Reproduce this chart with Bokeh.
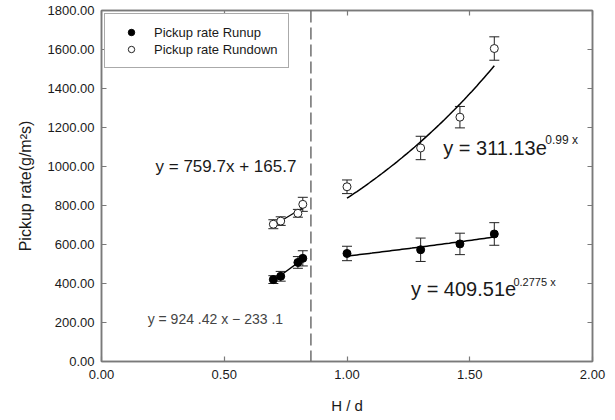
import numpy as np
from bokeh.plotting import figure
from bokeh.models import (ColumnDataSource, Whisker, TeeHead, Span, Label, Legend, LegendItem,
                          LinearAxis, FixedTicker, PrintfTickFormatter, Range1d)
from bokeh.embed import file_html
from bokeh.resources import INLINE

# ---- data ----
x_left = [0.70, 0.73, 0.80, 0.82]
runup_left = [420, 437, 508, 529]
runup_left_err = [20, 25, 30, 39]
rundown_left = [704, 720, 760, 806]
rundown_left_err = [23, 22, 20, 36]

x_right = [1.00, 1.30, 1.46, 1.60]
runup_right = [554, 573, 603, 654]
runup_right_err = [37, 60, 55, 58]
rundown_right = [896, 1095, 1253, 1605]
rundown_right_err = [35, 60, 55, 60]

# fit equations printed on the chart
lin_runup = (924.42, -233.1)
lin_rundown = (759.7, 165.7)
exp_runup = (409.51, 0.2775)
exp_rundown = (311.13, 0.99)
divider_x = 0.853

x_ticks = [0.0, 0.5, 1.0, 1.5, 2.0]
y_ticks = [0, 200, 400, 600, 800, 1000, 1200, 1400, 1600, 1800]

FONT = "Liberation Sans"
AX = "#7a7a7a"

p = figure(width=612, height=416, output_backend="svg", toolbar_location=None,
           x_range=Range1d(0, 2), y_range=Range1d(0, 1800),
           min_border_left=101, min_border_right=20, min_border_top=10, min_border_bottom=53)
p.grid.visible = False
p.outline_line_color = AX
p.outline_line_width = 1.5
p.background_fill_color = "white"
p.border_fill_color = "white"

def style_axis(ax, labels=True):
    ax.axis_line_color = AX
    ax.axis_line_width = 1.5
    ax.major_tick_line_color = AX
    ax.major_tick_line_width = 1.2
    ax.major_tick_in = 5
    ax.major_tick_out = 0
    ax.minor_tick_line_color = None
    ax.major_label_text_font = FONT
    ax.major_label_text_font_size = "13px"
    ax.major_label_text_color = "#1a1a1a"
    ax.axis_label_text_font = FONT
    ax.axis_label_text_font_size = "14px"
    ax.axis_label_text_font_style = "normal"
    ax.axis_label_text_color = "#1a1a1a"
    if not labels:
        ax.major_label_text_font_size = "1px"
        ax.major_label_text_color = None
        ax.major_label_standoff = 0

p.xaxis.ticker = FixedTicker(ticks=x_ticks)
p.yaxis.ticker = FixedTicker(ticks=y_ticks)
p.xaxis.formatter = PrintfTickFormatter(format="%.2f")
p.yaxis.formatter = PrintfTickFormatter(format="%.2f")
style_axis(p.xaxis[0])
style_axis(p.yaxis[0])
p.xaxis.major_label_standoff = 8
p.yaxis.major_label_standoff = 7
p.xaxis.axis_label = "H / d"
p.yaxis.axis_label = "Pickup rate(g/m²s)"
p.xaxis.axis_label_text_font_size = "15px"
p.yaxis.axis_label_text_font_size = "16px"
p.xaxis.axis_label_standoff = 15
p.yaxis.axis_label_standoff = 11

top_ax = LinearAxis(ticker=FixedTicker(ticks=x_ticks),
                    major_label_overrides={t: "" for t in x_ticks})
right_ax = LinearAxis(ticker=FixedTicker(ticks=y_ticks),
                      major_label_overrides={t: "" for t in y_ticks})
style_axis(top_ax, labels=False)
style_axis(right_ax, labels=False)
p.add_layout(top_ax, "above")
p.add_layout(right_ax, "right")

# divider
p.add_layout(Span(location=divider_x, dimension="height", line_color="#6e6e6e",
                  line_width=1.5, line_dash="12 5"))

# fit lines
xl = np.array([x_left[0], x_left[-1]])
p.line(xl, lin_runup[0] * xl + lin_runup[1], line_color="black", line_width=1.3)
p.line(xl, lin_rundown[0] * xl + lin_rundown[1], line_color="black", line_width=1.3)
xr = np.linspace(x_right[0], x_right[-1], 60)
p.line(xr, exp_runup[0] * np.exp(exp_runup[1] * xr), line_color="black", line_width=1.5)
p.line(xr, exp_rundown[0] * np.exp(exp_rundown[1] * xr), line_color="black", line_width=1.5)

# error bars
def add_err(xs, ys, es):
    src = ColumnDataSource(dict(x=xs, lo=[y - e for y, e in zip(ys, es)],
                                hi=[y + e for y, e in zip(ys, es)]))
    w = Whisker(source=src, base="x", lower="lo", upper="hi", line_color="#222222", line_width=1,
                upper_head=TeeHead(size=10, line_color="#222222", line_width=1),
                lower_head=TeeHead(size=10, line_color="#222222", line_width=1))
    p.add_layout(w)

add_err(x_left, runup_left, runup_left_err)
add_err(x_left, rundown_left, rundown_left_err)
add_err(x_right, runup_right, runup_right_err)
add_err(x_right, rundown_right, rundown_right_err)

xs_all = x_left + x_right
r_up = p.scatter(xs_all, runup_left + runup_right, size=8, marker="circle",
                 fill_color="black", line_color="black")
r_down = p.scatter(xs_all, rundown_left + rundown_right, size=8, marker="circle",
                   fill_color="white", line_color="#222222", line_width=1)

legend = Legend(items=[LegendItem(label="Pickup rate Runup", renderers=[r_up]),
                       LegendItem(label="Pickup rate Rundown", renderers=[r_down])],
                location="top_left", margin=3, padding=10, spacing=1,
                glyph_width=32, glyph_height=16, label_height=16, label_standoff=7,
                label_text_font=FONT, label_text_font_size="13px", label_text_color="#1a1a1a",
                border_line_color="#555555", border_line_width=1.5,
                background_fill_color="white", background_fill_alpha=1)
p.add_layout(legend, "center")

# equation labels
def eq(x, y, text, size, color="#1a1a1a", style="normal"):
    p.add_layout(Label(x=x, y=y, text=text, text_font=FONT, text_font_size=size,
                       text_color=color, text_baseline="middle", text_align="left",
                       text_font_style=style))

eq(0.220, 999, "y = 759.7x + 165.7", "17px")
eq(0.188, 219, "y = 924 .42 x − 233 .1", "14px", color="#444444")
eq(1.392, 1096, "y = 311.13e", "20px")
eq(1.808, 1135, "0.99 x", "12px")
eq(1.261, 372, "y = 409.51e", "20px")
eq(1.678, 410, "0.2775 x", "11px")

open("out.html", "w").write(file_html(p, INLINE))
